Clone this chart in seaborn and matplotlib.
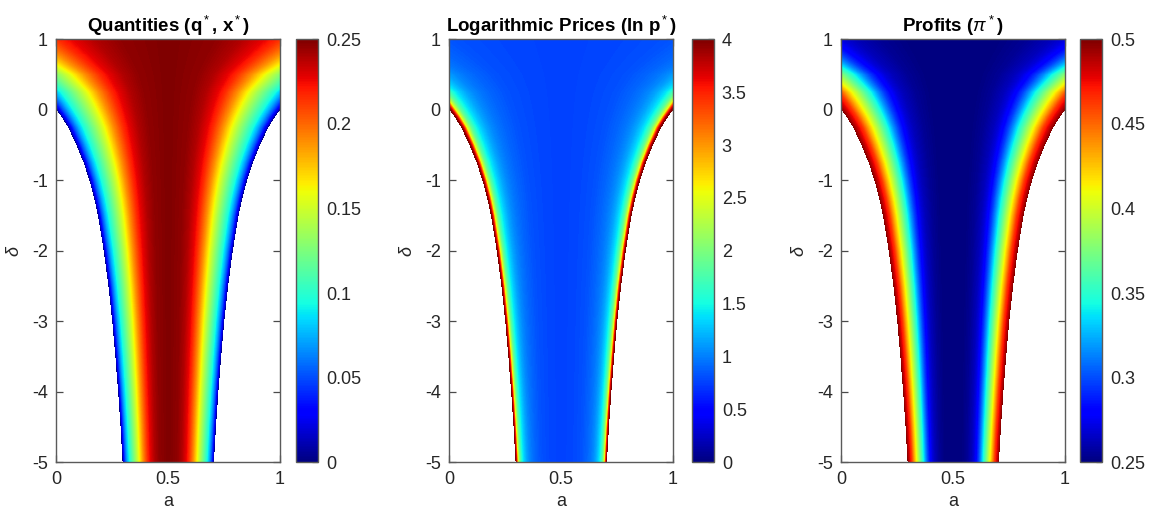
import numpy as np
import matplotlib
matplotlib.use("Agg")
import matplotlib.pyplot as plt
import seaborn as sns

# delta levels and half width of the band (in a) where the equilibrium exists
delta_rows = [1, 0.75, 0.5, 0.25, 0.1, 0, -0.1, -0.25, -0.5, -0.75, -1, -1.25, -1.5,
              -2, -2.5, -3, -3.5, -4, -4.5, -5]
half_width = [1.10, 0.88, 0.68, 0.565, 0.524, 0.5, 0.477, 0.447, 0.41, 0.378, 0.352, 0.331, 0.314,
              0.288, 0.267, 0.25, 0.236, 0.224, 0.213, 0.204]

# values across the band: t=0 is a=0.5, t=1 is the white edge
t_profile = [0, 0.2, 0.3, 0.4, 0.45, 0.5, 0.55, 0.6, 0.65, 0.7, 0.75, 0.8, 0.85, 0.9, 0.94, 0.965, 0.985, 1.0]
q_profile = [0.250, 0.246, 0.239, 0.226, 0.216, 0.203, 0.189, 0.172, 0.155, 0.139, 0.124, 0.109,
             0.094, 0.073, 0.052, 0.035, 0.018, 0.0]
lnp_profile = [0.76, 0.77, 0.79, 0.81, 0.83, 0.86, 0.89, 0.93, 0.98, 1.05, 1.15, 1.30,
               1.50, 1.90, 2.50, 3.50, 3.95, 4.5]
pi_profile = [0.250, 0.251, 0.255, 0.263, 0.270, 0.281, 0.297, 0.318, 0.343, 0.364, 0.387, 0.410,
              0.435, 0.462, 0.476, 0.486, 0.494, 0.5]

titles = ["Quantities (q$^*$, x$^*$)", "Logarithmic Prices (ln p$^*$)", "Profits ($\\pi^*$)"]
cbar_ticks = [[0, 0.05, 0.1, 0.15, 0.2, 0.25],
              [0, 0.5, 1, 1.5, 2, 2.5, 3, 3.5, 4],
              [0.25, 0.3, 0.35, 0.4, 0.45, 0.5]]
cbar_labels = [["0", "0.05", "0.1", "0.15", "0.2", "0.25"],
               ["0", "0.5", "1", "1.5", "2", "2.5", "3", "3.5", "4"],
               ["0.25", "0.3", "0.35", "0.4", "0.45", "0.5"]]
delta_ticks = [1, 0, -1, -2, -3, -4, -5]

sns.set_style("white")
plt.rcParams['font.family'] = ['Liberation Sans', 'DejaVu Sans']
plt.rcParams['mathtext.fontset'] = 'custom'
plt.rcParams['mathtext.rm'] = 'Liberation Sans'
plt.rcParams['mathtext.it'] = 'Liberation Sans:italic'
plt.rcParams['mathtext.bf'] = 'Liberation Sans:bold'
plt.rcParams['axes.unicode_minus'] = False

# fine grid over a in [0,1] and delta in [1,-5] (top to bottom)
n_a, n_d = 448, 424
a = (np.arange(n_a) + 0.5) / n_a
d = 1 - 6 * (np.arange(n_d) + 0.5) / n_d
h = np.interp(d, delta_rows[::-1], half_width[::-1])
t = np.abs(a[None, :] - 0.5) / h[:, None]
outside = t > 1

fields = []
for prof in [q_profile, lnp_profile, pi_profile]:
    z = np.interp(np.clip(t, 0, 1), t_profile, prof)
    z[outside] = np.nan
    fields.append(z)

W, H = 1157, 518
fig = plt.figure(figsize=(W / 100, H / 100), dpi=100)
ax_left = [56, 449, 841]
cb_left = [296, 692, 1080]
top, bottom = 39.3, 462.3
ink = '#262626'

for k in range(3):
    ax = fig.add_axes([ax_left[k] / W, 1 - bottom / H, 224 / W, (bottom - top) / H])
    cax = fig.add_axes([cb_left[k] / W, 1 - bottom / H, 21.5 / W, (bottom - top) / H])
    lo, hi = cbar_ticks[k][0], cbar_ticks[k][-1]
    sns.heatmap(fields[k], ax=ax, cmap='jet', vmin=lo, vmax=hi, mask=outside,
                xticklabels=False, yticklabels=False, cbar_ax=cax, rasterized=True)
    cb = ax.collections[0].colorbar

    for s in ax.spines.values():
        s.set_visible(True)
        s.set_color('#5a5a5a')
        s.set_linewidth(1.0)
    ax.set_xticks([0, n_a / 2, n_a])
    ax.set_xticklabels(["0", "0.5", "1"], rotation=0)
    ax.set_yticks([(1 - v) / 6 * n_d for v in delta_ticks])
    ax.set_yticklabels([str(v) for v in delta_ticks], rotation=0)
    ax.tick_params(direction='in', length=5, width=0.9, color='#4a4a4a',
                   top=True, right=True, left=True, bottom=True,
                   labelsize=13, labelcolor=ink, pad=6)
    ax.set_xlabel("a", fontsize=13, color=ink, labelpad=4)
    ax.set_ylabel("$\\delta$", fontsize=13, color=ink, labelpad=6)
    ax.set_title(titles[k], fontsize=13.5, fontweight='bold', color='black', pad=5)

    cb.set_ticks(cbar_ticks[k])
    cb.set_ticklabels(cbar_labels[k])
    cax.tick_params(axis='y', direction='in', length=4, width=0.9, color='#4a4a4a',
                    right=True, left=False, labelsize=13, labelcolor=ink, pad=6)
    cb.outline.set_visible(True)
    cb.outline.set_linewidth(1.0)
    cb.outline.set_edgecolor('#5a5a5a')

fig.savefig("out.png", dpi=100)
